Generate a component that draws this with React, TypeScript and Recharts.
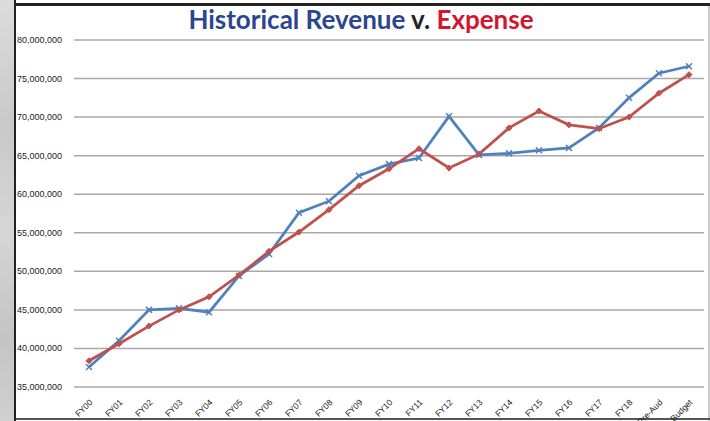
import React from "react";
import { LineChart, Line, XAxis, YAxis, CartesianGrid } from "recharts";

const categories = [
  "FY00", "FY01", "FY02", "FY03", "FY04", "FY05", "FY06", "FY07", "FY08", "FY09",
  "FY10", "FY11", "FY12", "FY13", "FY14", "FY15", "FY16", "FY17", "FY18", "Pre-Aud", "Budget",
];

const revenue = [
  37.6, 41.0, 45.0, 45.2, 44.7, 49.4, 52.25, 57.6, 59.1, 62.4,
  63.9, 64.7, 70.1, 65.1, 65.3, 65.7, 66.0, 68.6, 72.5, 75.7, 76.6,
].map((v) => v * 1e6);

const expense = [
  38.4, 40.6, 42.9, 45.0, 46.7, 49.5, 52.6, 55.1, 58.0, 61.1,
  63.3, 65.9, 63.4, 65.2, 68.6, 70.8, 69.0, 68.5, 70.0, 73.1, 75.5,
].map((v) => v * 1e6);

const yTicks = [35e6, 40e6, 45e6, 50e6, 55e6, 60e6, 65e6, 70e6, 75e6, 80e6];

const data = categories.map((c, i) => ({ name: c, revenue: revenue[i], expense: expense[i] }));

const BLUE = "#4F81BD";
const RED = "#C0504D";

const YTick = (props: any) => {
  const { y, payload } = props;
  return (
    <text x={62} y={y} dy={3} textAnchor="end" fontSize={9} fill="#222" fontFamily="'Liberation Sans', Arial, sans-serif">
      {payload.value.toLocaleString("en-US")}
    </text>
  );
};

const XTick = (props: any) => {
  const { x, y, payload } = props;
  return (
    <text
      x={0}
      y={0}
      transform={`translate(${x + 4},${y + 8}) rotate(-45)`}
      textAnchor="end"
      fontSize={8.5}
      fill="#222"
      fontFamily="'Liberation Sans', Arial, sans-serif"
    >
      {payload.value}
    </text>
  );
};

const CrossDot = (props: any) => {
  const { cx, cy } = props;
  if (cx == null || cy == null) return null;
  const s = 3;
  return (
    <g>
      <line x1={cx - s} y1={cy - s} x2={cx + s} y2={cy + s} stroke={BLUE} strokeWidth={1.5} />
      <line x1={cx - s} y1={cy + s} x2={cx + s} y2={cy - s} stroke={BLUE} strokeWidth={1.5} />
    </g>
  );
};

const DiamondDot = (props: any) => {
  const { cx, cy } = props;
  if (cx == null || cy == null) return null;
  const s = 3;
  return <path d={`M${cx},${cy - s}L${cx + s},${cy}L${cx},${cy + s}L${cx - s},${cy}Z`} fill={RED} stroke={RED} />;
};

export default function App() {
  return (
    <div style={{ position: "absolute", left: 0, top: 0, width: 710, height: 421, background: "#fff", overflow: "hidden" }}>
      <div
        style={{
          position: "absolute",
          left: 0,
          top: 0,
          width: 14,
          height: 421,
          background: "linear-gradient(180deg, #dcdcdc 0%, #c9c9c9 30%, #d6d6d6 55%, #c4c4c4 80%, #d0d0d0 100%)",
        }}
      />
      <div style={{ position: "absolute", left: 14, top: 0, width: 2, height: 421, background: "#222" }} />
      <div style={{ position: "absolute", left: 14, top: 3, width: 696, height: 3, background: "#222" }} />
      <div style={{ position: "absolute", left: 708, top: 6, width: 2, height: 415, background: "#ccc" }} />
      <div style={{ position: "absolute", left: 16, top: 418, width: 694, height: 2, background: "#555" }} />
      <div
        style={{
          position: "absolute",
          left: 0,
          top: 4,
          width: 722,
          textAlign: "center",
          fontFamily: "Lato, sans-serif",
          fontWeight: 700,
          fontSize: 26,
          lineHeight: "30px",
          whiteSpace: "nowrap",
        }}
      >
        <span style={{ color: "#2B4590" }}>Historical Revenue</span>
        <span style={{ color: "#222" }}> v. </span>
        <span style={{ color: "#D4152F" }}>Expense</span>
      </div>
      <div style={{ position: "absolute", left: 0, top: 0 }}>
        <LineChart width={710} height={421} data={data} margin={{ top: 40, right: 6, bottom: 0, left: 0 }}>
          <CartesianGrid horizontal vertical={false} stroke="#a8a8a8" strokeWidth={1.5} />
          <XAxis
            dataKey="name"
            axisLine={false}
            tickLine={false}
            interval={0}
            height={34}
            tick={<XTick />}
            padding={{ left: 15, right: 15 }}
          />
          <YAxis
            domain={[35e6, 80e6]}
            ticks={yTicks}
            axisLine={false}
            tickLine={false}
            width={74}
            tick={<YTick />}
            interval={0}
          />
          <Line
            type="linear"
            dataKey="revenue"
            stroke={BLUE}
            strokeWidth={2.75}
            dot={<CrossDot />}
            isAnimationActive={false}
          />
          <Line
            type="linear"
            dataKey="expense"
            stroke={RED}
            strokeWidth={2.75}
            dot={<DiamondDot />}
            isAnimationActive={false}
          />
        </LineChart>
      </div>
    </div>
  );
}
